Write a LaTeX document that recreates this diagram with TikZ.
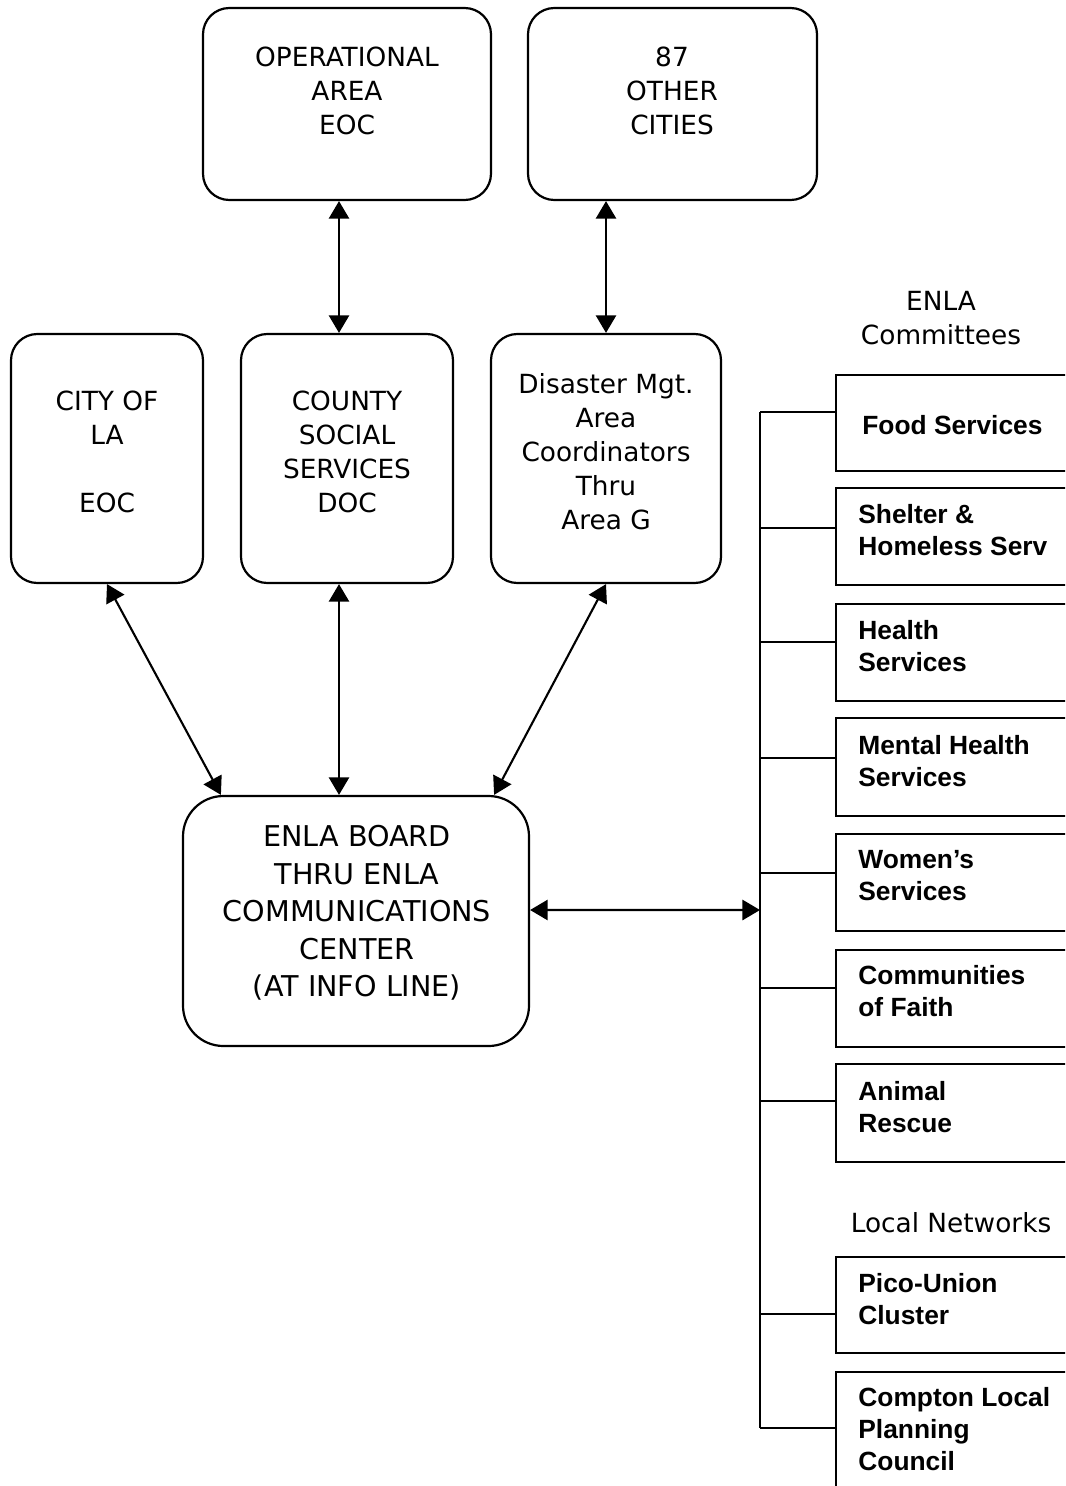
\documentclass[tikz,border=0pt]{standalone}
\usepackage{fontspec}
\setmainfont{DejaVu Sans}
\newfontfamily\arialfont{Liberation Sans}
\usetikzlibrary{arrows.meta,fit}

\tikzset{
  roundbox/.style={draw,line width=1.25pt,rounded corners=15pt,inner sep=0pt},
  boardbox/.style={roundbox,rounded corners=23pt},
  sqbox/.style={draw,line width=1.25pt,inner sep=0pt},
  boxtext/.style={align=center,inner sep=0pt,font=\fontsize{15}{19.3}\selectfont},
  boardtext/.style={align=center,inner sep=0pt,font=\fontsize{16.3}{21.4}\selectfont},
  committext/.style={align=left,anchor=west,inner sep=0pt,font=\arialfont\bfseries\fontsize{15}{18.2}\selectfont},
  link/.style={line width=1.2pt,{Triangle[length=10pt,width=11.5pt]}-{Triangle[length=10pt,width=11.5pt]}},
  tree/.style={line width=1.25pt},
}

\begin{document}
\begin{tikzpicture}[x=0.2mm,y=-0.2mm]
\useasboundingbox (0,0) rectangle (1065,1486);
\clip (0,0) rectangle (1065,1486);

% top row
\node[roundbox,fit={(203,8) (491,200)}] (opeoc) {};
\node[roundbox,fit={(528,8) (817,200)}] (others) {};
\node[boxtext] (opeoctxt) at (347,91) {OPERATIONAL\\AREA\\EOC};
\node[boxtext] (otherstxt) at (672,91) {87\\OTHER\\CITIES};

% middle row
\node[roundbox,fit={(11,334) (203,583)}] (city) {};
\node[roundbox,fit={(241,334) (453,583)}] (county) {};
\node[roundbox,fit={(491,334) (721,583)}] (disaster) {};
\node[boxtext] (citytxt) at (107,452) {CITY OF\\LA\\[19.3pt]EOC};
\node[boxtext] (countytxt) at (347,452) {COUNTY\\SOCIAL\\SERVICES\\DOC};
\node[boxtext] (disastertxt) at (606,452) {Disaster Mgt.\\Area\\Coordinators\\Thru\\Area G};

% board
\node[boardbox,fit={(183,796) (529,1046)}] (board) {};
\node[boardtext] (boardtxt) at (357,913) {ENLA BOARD\\THRU ENLA\\COMMUNICATIONS\\CENTER\\(AT INFO LINE)};

\draw[link] ([xshift=-1.6mm]opeoc.south) -- ([xshift=-1.6mm]county.north);
\draw[link] (others.south -| disaster.north) -- (disaster.north);
\draw[link] (city.south) -- ([xshift=7.8mm]board.north west);
\draw[link] ([xshift=-1.6mm]county.south) -- ([xshift=-1.6mm]county.south |- board.north);
\draw[link] (disaster.south) -- ([xshift=-7.2mm]board.north east);

% committees
\node[boxtext] (enlalbl) at (941,318) {ENLA\\Committees};
\node[boxtext] (locallbl) at (951,1223) {Local Networks};

\node[sqbox,fit={(836,375) (1100,471)}] (food) {};
\node[sqbox,fit={(836,488) (1100,585)}] (shelter) {};
\node[sqbox,fit={(836,604) (1100,701)}] (health) {};
\node[sqbox,fit={(836,718) (1100,816)}] (mental) {};
\node[sqbox,fit={(836,834) (1100,931)}] (women) {};
\node[sqbox,fit={(836,950) (1100,1047)}] (faith) {};
\node[sqbox,fit={(836,1064) (1100,1162)}] (animal) {};
\node[sqbox,fit={(836,1257) (1100,1353)}] (pico) {};
\node[sqbox,fit={(836,1372) (1100,1530)}] (compton) {};

\node[committext] (foodtxt) at (862,425) {Food Services};
\node[committext] (sheltertxt) at (858,530) {Shelter \&\\Homeless Serv};
\node[committext] (healthtxt) at (858,646) {Health\\Services};
\node[committext] (mentaltxt) at (858,761) {Mental Health\\Services};
\node[committext] (womentxt) at (858,876) {Women’s\\Services};
\node[committext] (faithtxt) at (858,991) {Communities\\of Faith};
\node[committext] (animaltxt) at (858,1107) {Animal\\Rescue};
\node[committext] (picotxt) at (858,1299) {Pico-Union\\Cluster};
\node[committext] (comptontxt) at (858,1429) {Compton Local\\Planning\\Council};

\coordinate (spinetop) at (760,412);
\coordinate (spinebot) at (760,1428);
\coordinate (hub) at (760,910);
\draw[tree] (spinetop) -- (spinebot);
\draw[tree] (spinetop) -- (food.west |- spinetop);
\draw[tree] (760,528) -- (shelter.west |- 0,528);
\draw[tree] (760,642) -- (health.west |- 0,642);
\draw[tree] (760,758) -- (mental.west |- 0,758);
\draw[tree] (760,873) -- (women.west |- 0,873);
\draw[tree] (760,988) -- (faith.west |- 0,988);
\draw[tree] (760,1101) -- (animal.west |- 0,1101);
\draw[tree] (760,1314) -- (pico.west |- 0,1314);
\draw[tree] (spinebot) -- (compton.west |- spinebot);

\draw[link] ([yshift=2.2mm]board.east) -- (hub);

\end{tikzpicture}
\end{document}
